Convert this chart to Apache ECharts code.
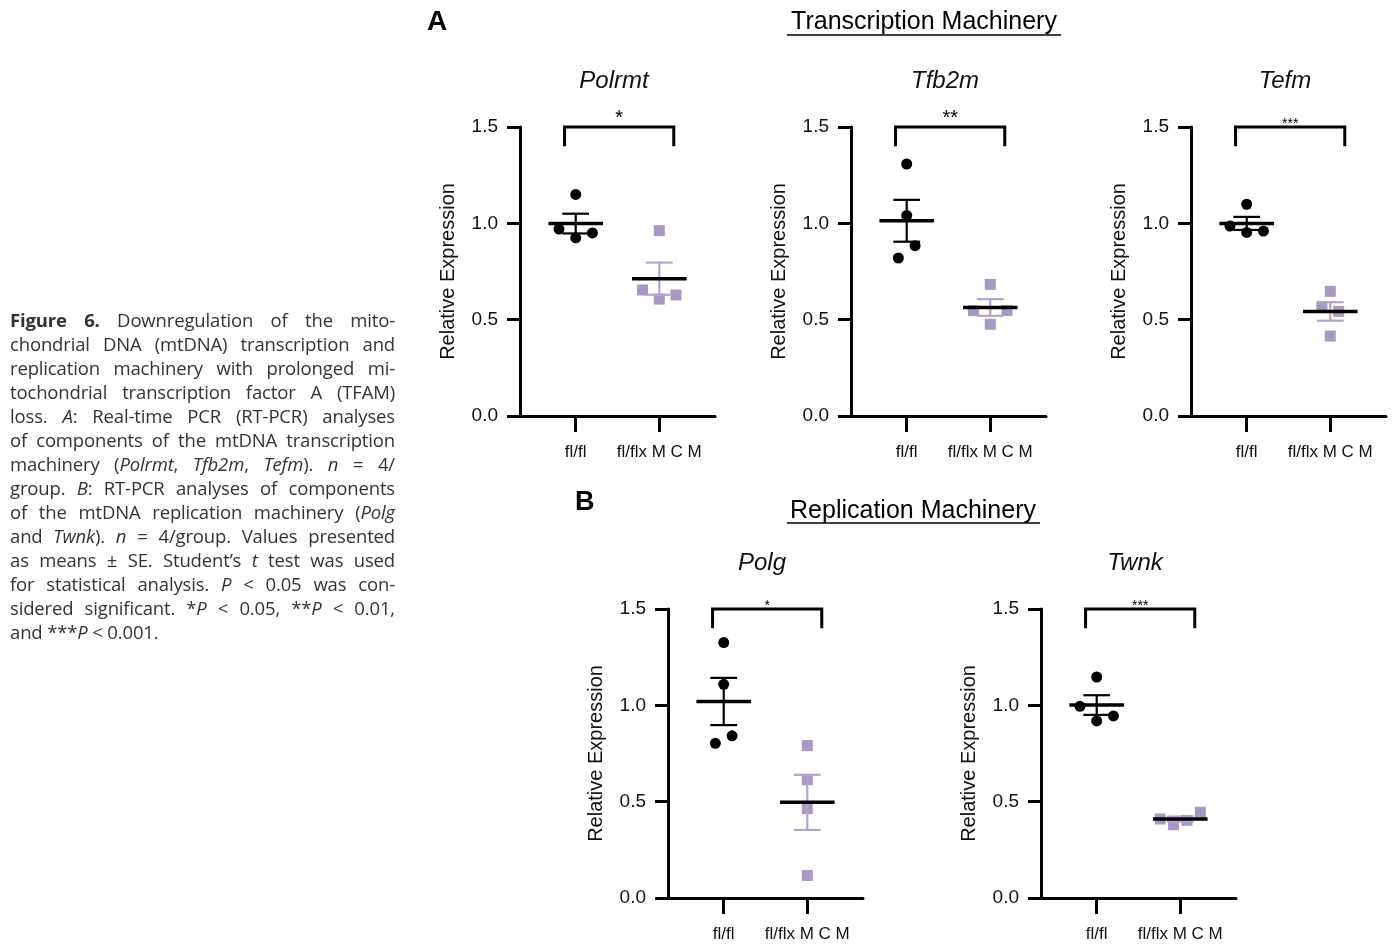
<!DOCTYPE html>
<html>
<head>
<meta charset="utf-8">
<script src="https://cdn.jsdelivr.net/npm/echarts@6/dist/echarts.min.js"></script>
<style>
  html, body { margin: 0; padding: 0; background: #fff; }
  #chart { width: 1393px; height: 946px; }
  .caption {
    position: absolute; left: 10px; top: 308px; width: 385px;
    font-family: "Open Sans", "Noto Sans", sans-serif; font-size: 18.5px; line-height: 24px; color: #333;
    letter-spacing: -0.15px;
  }
  .caption div { text-align: justify; text-align-last: justify; white-space: nowrap; }
  .caption div.last { text-align-last: left; }
</style>
</head>
<body>
<div id="chart"></div>
<div class="caption">
  <div><b>Figure 6.</b> Downregulation of the mito-</div>
  <div>chondrial DNA (mtDNA) transcription and</div>
  <div>replication machinery with prolonged mi-</div>
  <div>tochondrial transcription factor A (TFAM)</div>
  <div>loss. <i>A</i>: Real-time PCR (RT-PCR) analyses</div>
  <div>of components of the mtDNA transcription</div>
  <div>machinery (<i>Polrmt</i>, <i>Tfb2m</i>, <i>Tefm</i>). <i>n</i> = 4/</div>
  <div>group. <i>B</i>: RT-PCR analyses of components</div>
  <div>of the mtDNA replication machinery (<i>Polg</i></div>
  <div>and <i>Twnk</i>). <i>n</i> = 4/group. Values presented</div>
  <div>as means ± SE. Student’s <i>t</i> test was used</div>
  <div>for statistical analysis. <i>P</i> &lt; 0.05 was con-</div>
  <div>sidered significant. *<i>P</i> &lt; 0.05, **<i>P</i> &lt; 0.01,</div>
  <div class="last">and ***<i>P</i> &lt; 0.001.</div>
</div>
<script>
// genes, groups, ticks
const genes = ["Polrmt", "Tfb2m", "Tefm", "Polg", "Twnk"];
const groupLabels = ["fl/fl", "fl/flx M C M"];
const groupX = [1, 2.5];
const yTicks = [0, 0.5, 1.0, 1.5];
const stars = ["*", "**", "***", "*", "***"];

// relative expression, one row per gene
const flflValues = [
  [1.15, 0.97, 0.925, 0.95],
  [1.308, 1.041, 0.82, 0.884],
  [1.099, 0.986, 0.953, 0.96],
  [1.326, 1.109, 0.803, 0.842],
  [1.147, 0.995, 0.919, 0.945],
];
const mcmValues = [
  [0.962, 0.654, 0.607, 0.628],
  [0.683, 0.547, 0.547, 0.476],
  [0.647, 0.566, 0.543, 0.415],
  [0.791, 0.614, 0.464, 0.117],
  [0.41, 0.38, 0.403, 0.445],
];
// horizontal scatter of the dots around each group
const flflJitter = [
  [0, -0.3, 0, 0.3],
  [0, 0, -0.15, 0.15],
  [0, -0.3, 0, 0.3],
  [0, 0, -0.15, 0.15],
  [0, -0.3, 0, 0.3],
];
const mcmJitter = [
  [0, -0.3, 0, 0.3],
  [0, -0.3, 0.3, 0],
  [0, -0.15, 0.15, 0],
  [0, 0, 0, 0],
  [-0.36, -0.12, 0.12, 0.36],
];

// layout
const panelLeft = [520, 851, 1191, 668, 1041];
const panelTop = [127, 127, 127, 609, 609];
const panelW = 195;
const panelH = 289;
const starSize = [20, 20, 14, 14, 14];
const FONT = '"Liberation Sans", Arial, sans-serif';
const PURPLE = "#a898c4";
const PURPLE_BAR = "#b3a4cc";

const mean = (a) => a.reduce((s, v) => s + v, 0) / a.length;
const se = (a) => {
  const m = mean(a);
  const v = a.reduce((s, x) => s + (x - m) * (x - m), 0) / (a.length - 1);
  return Math.sqrt(v / a.length);
};

function meanSeItem(barColor) {
  return function (params, api) {
    const x = api.value(0), m = api.value(1), e = api.value(2);
    const p = (dx, y) => api.coord([x + dx, y]);
    const top = p(0, m + e), bot = p(0, m - e);
    const ml = p(-0.49, m), mr = p(0.49, m);
    const ctl = p(-0.24, m + e), ctr = p(0.24, m + e);
    const cbl = p(-0.24, m - e), cbr = p(0.24, m - e);
    const bar = { stroke: barColor, lineWidth: 2.2 };
    return {
      type: "group",
      children: [
        { type: "line", shape: { x1: top[0], y1: top[1], x2: bot[0], y2: bot[1] }, style: bar },
        { type: "line", shape: { x1: ctl[0], y1: ctl[1], x2: ctr[0], y2: ctr[1] }, style: bar },
        { type: "line", shape: { x1: cbl[0], y1: cbl[1], x2: cbr[0], y2: cbr[1] }, style: bar },
        { type: "line", shape: { x1: ml[0], y1: ml[1], x2: mr[0], y2: mr[1] }, style: { stroke: "#000", lineWidth: 3.5 } },
      ],
    };
  };
}

function bracketItem(i) {
  return function (params, api) {
    const a = api.coord([api.value(0), api.value(2)]);
    const b = api.coord([api.value(1), api.value(2)]);
    const a2 = api.coord([api.value(0), api.value(3)]);
    const b2 = api.coord([api.value(1), api.value(3)]);
    return {
      type: "group",
      children: [
        {
          type: "polyline",
          shape: { points: [a2, a, b, b2] },
          style: { stroke: "#000", lineWidth: 3, fill: null },
        },
        {
          type: "text",
          x: (a[0] + b[0]) / 2,
          y: a[1] + (starSize[i] > 16 ? 1 : 4),
          style: {
            text: stars[i],
            fill: "#000",
            font: starSize[i] + "px " + FONT,
            align: "center",
            verticalAlign: "bottom",
          },
        },
      ],
    };
  };
}

const grid = [], xAxis = [], yAxis = [], series = [], graphic = [];

genes.forEach((g, i) => {
  grid.push({ left: panelLeft[i], top: panelTop[i], width: panelW, height: panelH, outerBoundsMode: "none" });
  xAxis.push({
    gridIndex: i, type: "value", min: 0, max: 3.5,
    axisLine: { show: true, onZero: false, lineStyle: { color: "#000", width: 3 } },
    axisTick: { show: true, customValues: groupX, length: 16, lineStyle: { color: "#000", width: 3 } },
    axisLabel: {
      customValues: groupX,
      formatter: (v) => groupLabels[groupX.indexOf(v)],
      margin: 28, fontSize: 17, color: "#111", fontFamily: FONT,
    },
    splitLine: { show: false },
  });
  yAxis.push({
    gridIndex: i, type: "value", min: 0, max: 1.5, interval: 0.5,
    axisLine: { show: true, onZero: false, lineStyle: { color: "#000", width: 3 } },
    axisTick: { show: true, length: 13, lineStyle: { color: "#000", width: 3 } },
    axisLabel: {
      formatter: (v) => (yTicks.includes(v) ? v.toFixed(1) : ""),
      margin: 22, fontSize: 19, color: "#111", fontFamily: FONT,
    },
    splitLine: { show: false },
    name: "Relative Expression",
    nameLocation: "middle",
    nameGap: 62,
    nameTextStyle: { fontSize: 20, color: "#111", fontFamily: FONT },
  });

  series.push({
    type: "scatter", xAxisIndex: i, yAxisIndex: i, z: 2,
    symbol: "circle", symbolSize: 11,
    itemStyle: { color: "#000", opacity: 1 },
    data: flflValues[i].map((v, k) => [groupX[0] + flflJitter[i][k], v]),
  });
  series.push({
    type: "scatter", xAxisIndex: i, yAxisIndex: i, z: 2,
    symbol: "rect", symbolSize: 11,
    itemStyle: { color: PURPLE, opacity: 1 },
    data: mcmValues[i].map((v, k) => [groupX[1] + mcmJitter[i][k], v]),
  });
  series.push({
    type: "custom", xAxisIndex: i, yAxisIndex: i, z: 3,
    renderItem: meanSeItem("#000"),
    encode: { x: 0, y: 1 },
    data: [[groupX[0], mean(flflValues[i]), se(flflValues[i])]],
  });
  series.push({
    type: "custom", xAxisIndex: i, yAxisIndex: i, z: 3,
    renderItem: meanSeItem(PURPLE_BAR),
    encode: { x: 0, y: 1 },
    data: [[groupX[1], mean(mcmValues[i]), se(mcmValues[i])]],
  });
  series.push({
    type: "custom", xAxisIndex: i, yAxisIndex: i, z: 3,
    renderItem: bracketItem(i),
    encode: { x: [0, 1], y: [2, 3] },
    data: [[0.8, 2.76, 1.5, 1.4]],
  });

  graphic.push({
    type: "text", x: panelLeft[i] + 94, y: panelTop[i] - 46,
    style: {
      text: g, fill: "#111", font: "italic 24px " + FONT,
      align: "center", verticalAlign: "middle", textAlign: "center", textVerticalAlign: "middle",
    },
  });
});

// section headings
const headText = (text, x, y, font, align) => ({
  type: "text", x, y,
  style: { text, fill: "#000", font, align, verticalAlign: "middle", textAlign: align, textVerticalAlign: "middle" },
});
graphic.push(headText("A", 427, 22, "bold 28px " + FONT, "left"));
graphic.push(headText("Transcription Machinery", 924, 22, "25px " + FONT, "center"));
graphic.push({ type: "line", shape: { x1: 787, y1: 35, x2: 1061, y2: 35 }, style: { stroke: "#000", lineWidth: 1.5 } });
graphic.push(headText("B", 575, 503, "bold 27px " + FONT, "left"));
graphic.push(headText("Replication Machinery", 913, 511, "25px " + FONT, "center"));
graphic.push({ type: "line", shape: { x1: 787, y1: 523, x2: 1040, y2: 523 }, style: { stroke: "#000", lineWidth: 1.5 } });

const chart = echarts.init(document.getElementById("chart"));
chart.setOption({
  animation: false,
  backgroundColor: "#fff",
  grid, xAxis, yAxis, series, graphic,
});
</script>
</body>
</html>
